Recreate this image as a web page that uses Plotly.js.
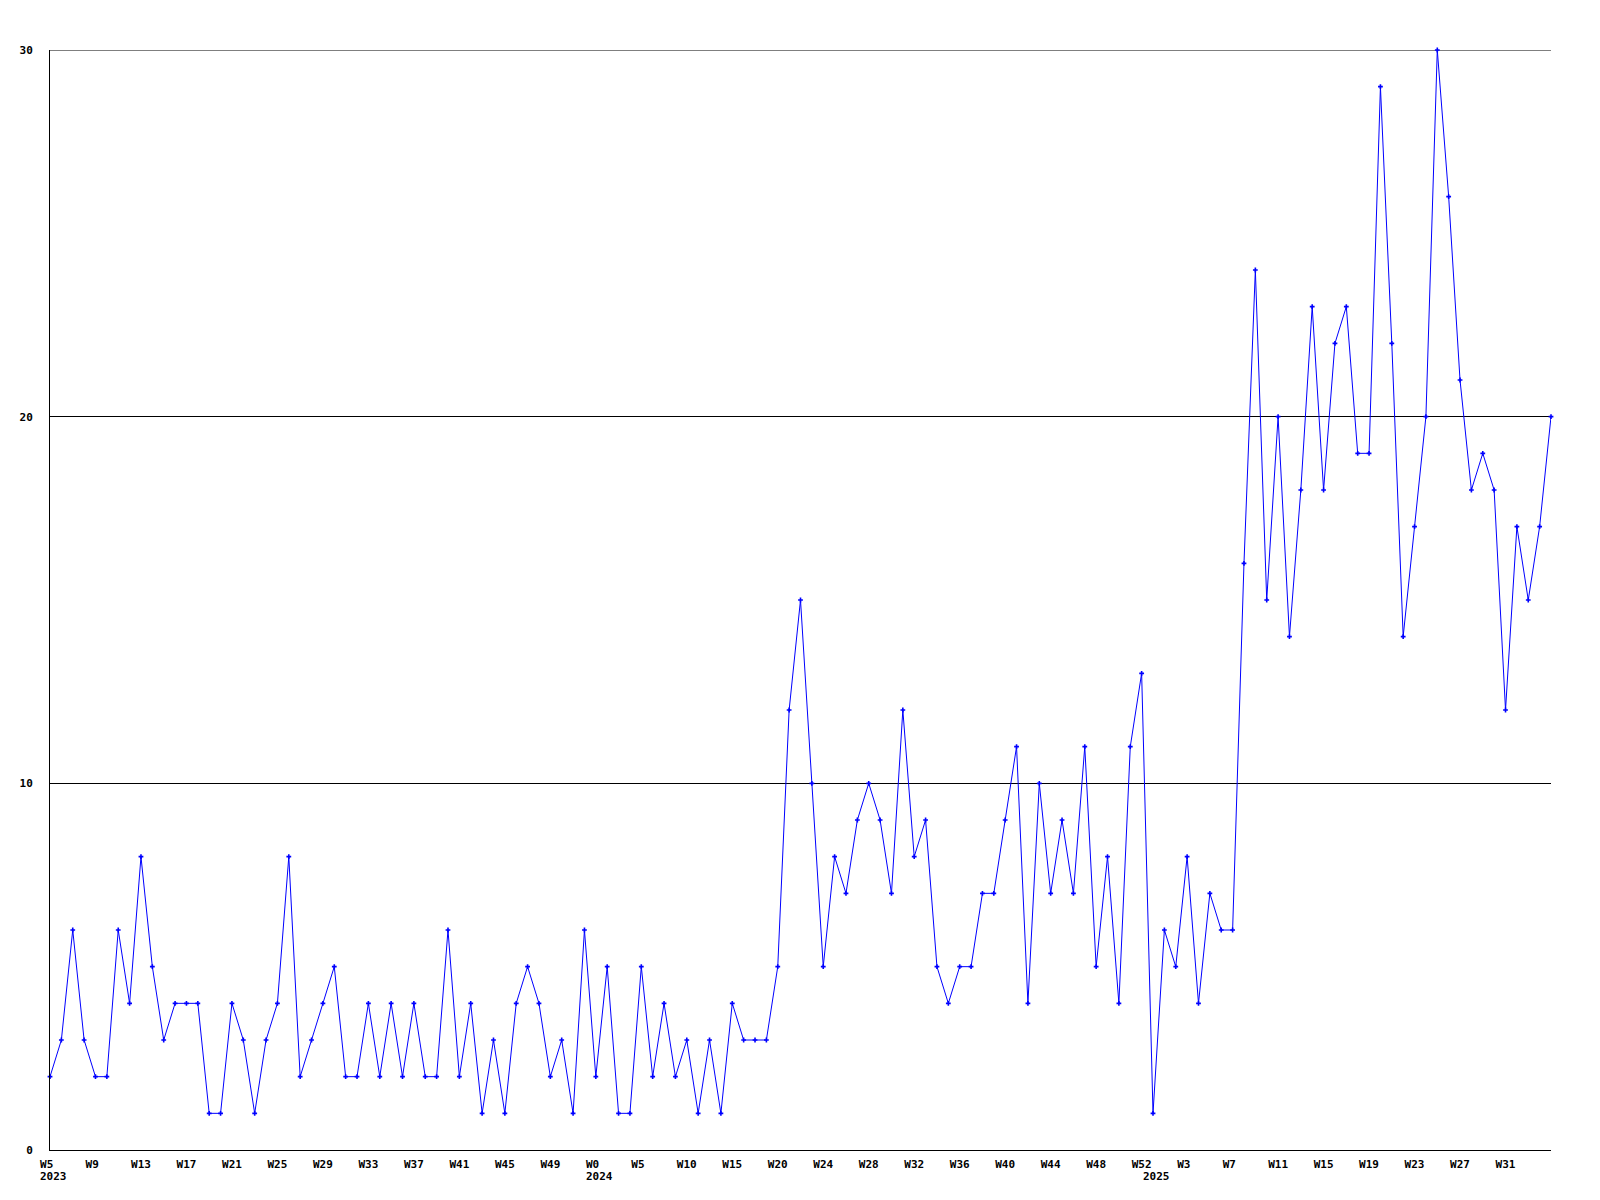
<!DOCTYPE html>
<html>
<head>
<meta charset="utf-8">
<script src="https://cdn.plot.ly/plotly-3.0.1.min.js"></script>
<style>
  html, body { margin: 0; padding: 0; background: #ffffff; }
  #chart { width: 1600px; height: 1200px; }
</style>
</head>
<body>
<div id="chart"></div>
<script>
// Weekly counts, 2023 W5 .. 2025 W35 (one value per plotted week)
const weeklyValues = [
  2, 3, 6, 3, 2, 2, 6, 4, 8, 5, 3, 4, 4, 4, 1, 1, 4, 3, 1, 3,
  4, 8, 2, 3, 4, 5, 2, 2, 4, 2, 4, 2, 4, 2, 2, 6, 2, 4, 1, 3,
  1, 4, 5, 4, 2, 3, 1, 6, 2, 5, 1, 1, 5, 2, 4, 2, 3, 1, 3, 1,
  4, 3, 3, 3, 5, 12, 15, 10, 5, 8, 7, 9, 10, 9, 7, 12, 8, 9, 5, 4,
  5, 5, 7, 7, 9, 11, 4, 10, 7, 9, 7, 11, 5, 8, 4, 11, 13, 1, 6, 5,
  8, 4, 7, 6, 6, 16, 24, 15, 20, 14, 18, 23, 18, 22, 23, 19, 19, 29, 22, 14,
  17, 20, 30, 26, 21, 18, 19, 18, 12, 17, 15, 17, 20
];

// Week tick labels, one for every 4th plotted week
const weekTickLabels = [
  'W5', 'W9', 'W13', 'W17', 'W21', 'W25', 'W29', 'W33', 'W37', 'W41', 'W45', 'W49',
  'W0', 'W5', 'W10', 'W15', 'W20', 'W24', 'W28', 'W32', 'W36', 'W40', 'W44', 'W48', 'W52',
  'W3', 'W7', 'W11', 'W15', 'W19', 'W23', 'W27', 'W31'
];
const weekTickStep = 4;

// Year labels and the plotted week at which each year begins
const yearLabels = ['2023', '2024', '2025'];
const yearStartWeek = [0, 48, 97];

const yTickValues = [0, 10, 20, 30];

const xIndex = weeklyValues.map((v, i) => i);
const tickVals = weekTickLabels.map((t, i) => i * weekTickStep);
// two-character labels sit slightly left, as in the original renderer
const tickText = weekTickLabels.map(t => t.length < 3 ? t + '\u00A0' : t);

const FONT = { family: 'DejaVu Sans Mono, Liberation Mono, monospace', size: 11, color: '#000000' };

const trace = {
  type: 'scatter',
  mode: 'lines+markers',
  x: xIndex,
  y: weeklyValues,
  line: { color: '#0000ff', width: 1 },
  marker: { color: '#0000ff', symbol: 'cross', size: 4, line: { width: 0 } },
  cliponaxis: false,
  hoverinfo: 'x+y'
};

const annotations = yearLabels.map((lab, i) => ({
  text: '<b>' + lab + '</b>',
  x: yearStartWeek[i],
  xref: 'x',
  y: 0,
  yref: 'paper',
  xanchor: 'left',
  yanchor: 'top',
  xshift: -12,
  yshift: -18,
  showarrow: false,
  font: FONT
}));

const yTop = yTickValues[yTickValues.length - 1];

const layout = {
  width: 1600,
  height: 1200,
  margin: { l: 50, r: 49, t: 50, b: 50, pad: 0 },
  paper_bgcolor: '#ffffff',
  plot_bgcolor: '#ffffff',
  showlegend: false,
  font: FONT,
  xaxis: {
    range: [0, weeklyValues.length - 1],
    tickmode: 'array',
    tickvals: tickVals,
    ticktext: tickText.map(t => '<b>' + t + '</b>'),
    ticks: '',
    showgrid: false,
    zeroline: false,
    showline: true,
    linecolor: '#000000',
    linewidth: 1,
    tickfont: FONT,
    ticklabelstandoff: 4,
    fixedrange: true
  },
  yaxis: {
    range: [0, yTop],
    tickmode: 'array',
    tickvals: yTickValues,
    ticktext: yTickValues.map(v => '<b>' + v + '</b>'),
    ticks: '',
    showgrid: true,
    gridcolor: '#000000',
    gridwidth: 1,
    zeroline: false,
    showline: true,
    linecolor: '#000000',
    linewidth: 1,
    tickfont: FONT,
    ticklabelstandoff: 14,
    fixedrange: true
  },
  shapes: [{
    type: 'line',
    xref: 'paper', yref: 'y',
    x0: 0, x1: 1, y0: yTop, y1: yTop,
    line: { color: '#000000', width: 1 },
    layer: 'below'
  }],
  annotations: annotations
};

Plotly.newPlot('chart', [trace], layout, { displayModeBar: false, staticPlot: true });
</script>
</body>
</html>
